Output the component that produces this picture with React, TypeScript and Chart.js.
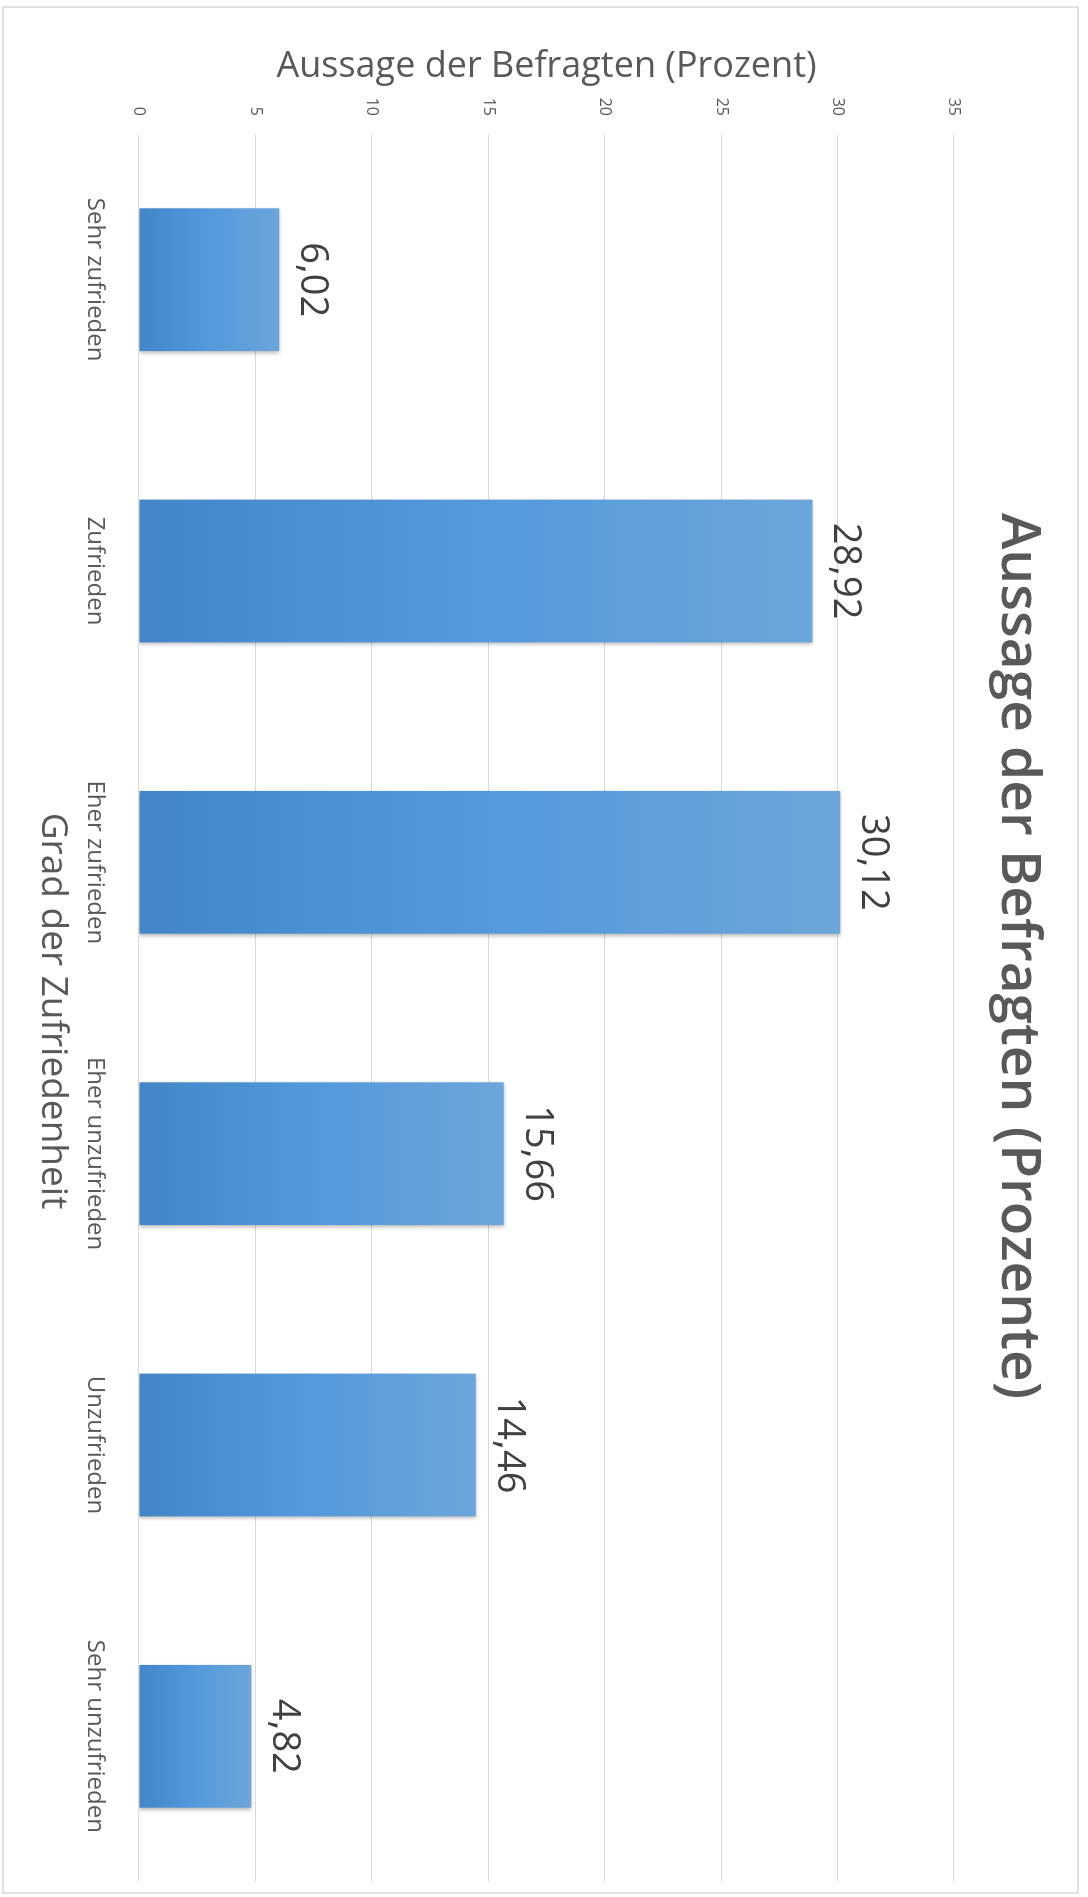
import React, { useEffect, useRef } from 'react';
import { Chart, registerables } from 'chart.js';

Chart.register(...registerables);

// ---- data ----
const categories = [
  'Sehr zufrieden',
  'Zufrieden',
  'Eher zufrieden',
  'Eher unzufrieden',
  'Unzufrieden',
  'Sehr unzufrieden',
];
const values = [6.02, 28.92, 30.12, 15.66, 14.46, 4.82];
const valueMin = 0;
const valueMax = 35;
const valueStep = 5;
const chartTitle = 'Aussage der Befragten (Prozente)';
const valueAxisTitle = 'Aussage der Befragten (Prozent)';
const categoryAxisTitle = 'Grad der Zufriedenheit';

// ---- layout (unrotated canvas; the whole chart is turned 90° clockwise) ----
const CW = 1897;
const CH = 1088;
const FONT = "'Open Sans', sans-serif";
const TEXT = '#595959';

const fmt = (v: number) => v.toFixed(2).replace('.', ',');

export default function App() {
  const ref = useRef<HTMLCanvasElement>(null);

  useEffect(() => {
    const canvas = ref.current;
    if (!canvas) return;

    const decor = {
      id: 'decor',
      beforeDraw(chart: any) {
        const c = chart.ctx;
        c.save();
        c.strokeStyle = '#d9d9d9';
        c.lineWidth = 1.5;
        c.strokeRect(7, 10, 1886, 1075);
        c.restore();
      },
      beforeDatasetsDraw(chart: any) {
        const c = chart.ctx;
        c.save();
        c.shadowColor = 'rgba(0,0,0,0.28)';
        c.shadowBlur = 4;
        c.shadowOffsetX = 2;
        c.shadowOffsetY = 0;
      },
      afterDatasetsDraw(chart: any) {
        const c = chart.ctx;
        c.restore();
        const meta = chart.getDatasetMeta(0);
        c.save();
        c.font = `38px ${FONT}`;
        c.fillStyle = '#404040';
        c.textAlign = 'center';
        c.textBaseline = 'alphabetic';
        meta.data.forEach((bar: any, i: number) => {
          c.fillText(fmt(values[i]), bar.x, bar.y - 22);
        });
        c.restore();
      },
      afterDraw(chart: any) {
        const c = chart.ctx;
        const area = chart.chartArea;
        c.save();
        c.fillStyle = TEXT;
        c.textAlign = 'center';
        c.textBaseline = 'alphabetic';
        // chart title
        c.font = `600 55px ${FONT}`;
        c.fillText(chartTitle, 956, 86);
        // category axis title
        c.font = `37px ${FONT}`;
        c.fillText(categoryAxisTitle, 1011, 1046);
        // value axis title (rotated)
        c.font = `36px ${FONT}`;
        c.translate(77, (area.top + area.bottom) / 2);
        c.rotate(-Math.PI / 2);
        c.fillText(valueAxisTitle, 0, 0);
        c.restore();
      },
    };

    const chart = new Chart(canvas, {
      type: 'bar',
      data: {
        labels: categories,
        datasets: [
          {
            data: values,
            barPercentage: 0.49,
            categoryPercentage: 1,
            borderWidth: 0,
            backgroundColor: (ctx: any) => {
              const ch = ctx.chart;
              const ys = ch.scales && ch.scales.y;
              if (!ys || ctx.type !== 'data') return '#5399dc';
              const base = ys.getPixelForValue(0);
              const top = ys.getPixelForValue(ctx.raw as number);
              if (!isFinite(base) || !isFinite(top) || base === top) return '#5399dc';
              const g = ch.ctx.createLinearGradient(0, base, 0, top);
              g.addColorStop(0, '#4286c8');
              g.addColorStop(0.5, '#5399dc');
              g.addColorStop(1, '#6ca5da');
              return g;
            },
          },
        ],
      },
      options: {
        responsive: false,
        animation: false,
        devicePixelRatio: 1,
        layout: { padding: { top: 134, right: 15, left: 0, bottom: 0 } },
        plugins: {
          legend: { display: false },
          title: { display: false },
          tooltip: { enabled: false },
        },
        scales: {
          x: {
            type: 'category',
            grid: { display: false },
            border: { display: false },
            ticks: {
              color: TEXT,
              font: { family: FONT, size: 24 },
              padding: 22,
              maxRotation: 0,
              autoSkip: false,
            },
            afterFit: (s: any) => {
              s.height = 139;
            },
          },
          y: {
            min: valueMin,
            max: valueMax,
            grid: { color: '#d9d9d9', lineWidth: 1, drawTicks: false },
            border: { display: false },
            ticks: {
              stepSize: valueStep,
              color: TEXT,
              font: { family: FONT, size: 16 },
              padding: 18,
            },
            afterFit: (s: any) => {
              s.width = 134;
            },
          },
        },
      },
      plugins: [decor],
    } as any);

    return () => chart.destroy();
  }, []);

  return (
    <div
      style={{
        position: 'absolute',
        left: 0,
        top: 0,
        width: CH,
        height: CW,
        overflow: 'hidden',
        background: '#ffffff',
      }}
    >
      <div
        style={{
          position: 'absolute',
          left: 0,
          top: 0,
          width: CW,
          height: CH,
          transformOrigin: '0 0',
          transform: `translate(${CH}px, 0px) rotate(90deg)`,
        }}
      >
        <canvas ref={ref} width={CW} height={CH} style={{ display: 'block', width: CW, height: CH }} />
      </div>
    </div>
  );
}
